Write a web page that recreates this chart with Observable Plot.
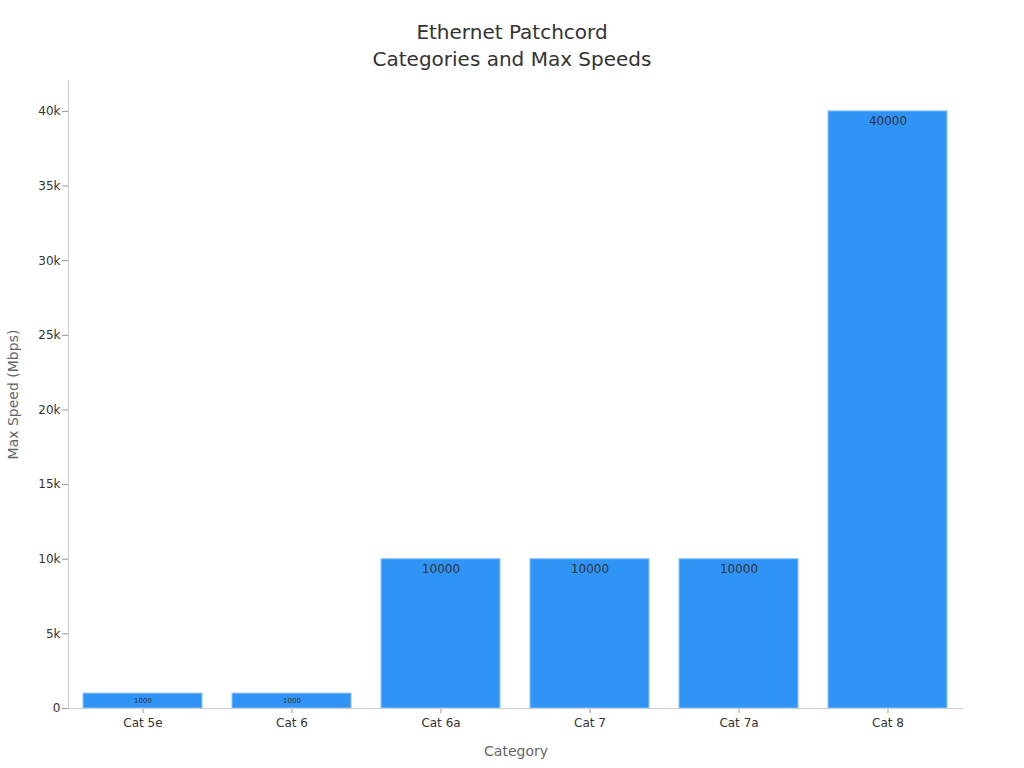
<!DOCTYPE html>
<html>
<head>
<meta charset="utf-8">
<script src="https://cdn.jsdelivr.net/npm/d3@7"></script>
<script src="https://cdn.jsdelivr.net/npm/@observablehq/plot@0.6"></script>
<style>
  html, body { margin: 0; padding: 0; background: #fff; }
  body { width: 1024px; height: 768px; overflow: hidden; font-family: "DejaVu Sans", sans-serif; }
  #title { height: 70px; box-sizing: border-box; padding-top: 19px; text-align: center; font-size: 20px; line-height: 27px; color: #333; }
</style>
</head>
<body>
<div id="title">Ethernet Patchcord<br>Categories and Max Speeds</div>
<div id="chart"></div>
<script>
const categories = ["Cat 5e", "Cat 6", "Cat 6a", "Cat 7", "Cat 7a", "Cat 8"];
const speeds = [1000, 1000, 10000, 10000, 10000, 40000];
const yTicks = [0, 5000, 10000, 15000, 20000, 25000, 30000, 35000, 40000];
const yTickLabels = ["0", "5k", "10k", "15k", "20k", "25k", "30k", "35k", "40k"];

const data = categories.map((c, i) => ({category: c, speed: speeds[i]}));

const chart = Plot.plot({
  width: 1024,
  height: 698,
  marginTop: 10,
  marginLeft: 68,
  marginRight: 61,
  marginBottom: 60,
  style: {fontFamily: "DejaVu Sans, sans-serif", fontSize: "12px", color: "#333", background: "#fff"},
  x: {domain: categories, paddingInner: 0.2, paddingOuter: 0.1, label: null},
  y: {domain: [0, 42070], label: null},
  marks: [
    Plot.barY(data, {x: "category", y: "speed", fill: "#3094f7", stroke: "#8cc2f5", strokeWidth: 1}),
    Plot.text(data.filter(d => d.speed >= 5000), {x: "category", y: "speed", text: d => String(d.speed), dy: 10, fontSize: 12, fill: "#333"}),
    Plot.text(data.filter(d => d.speed < 5000), {x: "category", y: d => d.speed / 2, text: d => String(d.speed), fontSize: 7, fill: "#333"}),
    Plot.axisX({ticks: categories, tickSize: 5, tickPadding: 5, stroke: "#999", fill: "#333", fontSize: 12, label: null}),
    Plot.axisY({ticks: yTicks, tickFormat: (d) => yTickLabels[yTicks.indexOf(d)], tickSize: 6, tickPadding: 2, stroke: "#999", fill: "#333", fontSize: 12, label: null}),
    Plot.ruleY([0], {stroke: "#ccc"}),
    Plot.frame({anchor: "left", stroke: "#ccc"}),
    Plot.text(["Category"], {frameAnchor: "bottom", dy: 47, fontSize: 14, fill: "#666"}),
    Plot.text(["Max Speed (Mbps)"], {frameAnchor: "left", textAnchor: "middle", dx: -55, rotate: -90, fontSize: 14, fill: "#666"})
  ]
});
document.getElementById("chart").appendChild(chart);
</script>
</body>
</html>
